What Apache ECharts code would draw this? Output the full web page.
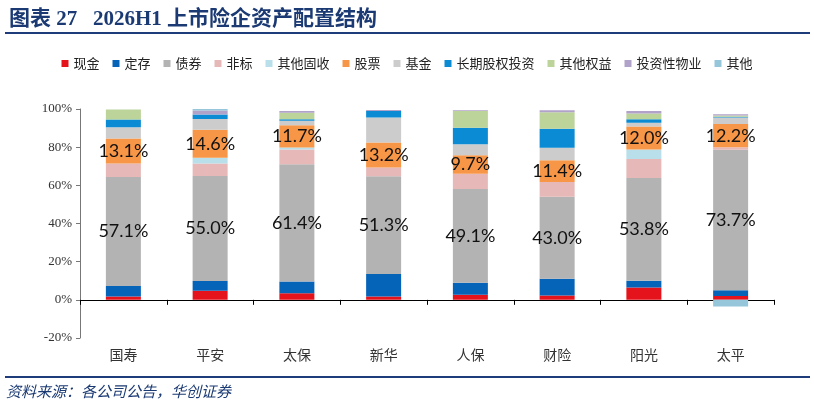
<!DOCTYPE html>
<html>
<head>
<meta charset="utf-8">
<script src="https://cdn.jsdelivr.net/npm/echarts@6/dist/echarts.min.js"></script>
<style>
  html, body { margin: 0; padding: 0; background: #fff; }
  #main { width: 814px; height: 408px; }
</style>
</head>
<body>
<div id="main"></div>
<script>
var companies = ['国寿', '平安', '太保', '新华', '人保', '财险', '阳光', '太平']

// shares of total investment assets, %
var cash = [1.8, 4.7, 3.5, 1.7, 2.6, 2.3, 6.5, 2.0]
var deposits = [5.5, 5.2, 6.1, 11.8, 6.4, 8.7, 3.5, 3.0]
var bonds = [57.1, 55.0, 61.4, 51.3, 49.1, 43.0, 53.8, 73.7]
var nonStandard = [7.0, 6.5, 7.8, 4.5, 8.0, 7.7, 10.0, 1.2]
var otherFixed = [0, 3.1, 1.0, 0, 0, 0, 5.0, 0]
var stocks = [13.1, 14.6, 11.7, 13.2, 9.7, 11.4, 12.0, 12.2]
var funds = [6.0, 5.6, 2.4, 13.0, 5.7, 6.6, 2.0, 3.5]
var longEquity = [4.0, 2.4, 0.7, 3.5, 8.7, 9.9, 1.8, 0.4]
var otherEquity = [5.2, 0, 3.5, 0, 8.7, 8.7, 3.0, 0.6]
var property = [0, 2.1, 0.9, 0.5, 0.5, 1.0, 1.4, 0.7]
var others = [0, 0.8, 0, 0, 0, 0, 0, -3.5]

var yTicks = [-20, 0, 20, 40, 60, 80, 100]

var seriesDefs = [
  ['现金', cash, '#E5141C', false],
  ['定存', deposits, '#0563B8', false],
  ['债券', bonds, '#B3B3B3', true],
  ['非标', nonStandard, '#E6B9B8', false],
  ['其他固收', otherFixed, '#B9DFEA', false],
  ['股票', stocks, '#F79646', true],
  ['基金', funds, '#CCCCCC', false],
  ['长期股权投资', longEquity, '#0A8BD3', false],
  ['其他权益', otherEquity, '#BCD39A', false],
  ['投资性物业', property, '#B1A2C9', false],
  ['其他', others, '#96C6D9', false]
]

var chartDom = document.getElementById('main')
var myChart = echarts.init(chartDom)
var option

var series = seriesDefs.map(function (d) {
  return {
    name: d[0],
    type: 'bar',
    stack: 'total',
    barWidth: 35,
    data: d[1],
    itemStyle: { color: d[2] },
    label: {
      show: d[3],
      position: 'inside',
      color: '#111',
      fontSize: 18,
      fontFamily: 'Lato, "Noto Sans", sans-serif',
      formatter: function (p) { return p.value.toFixed(1) + '%' }
    }
  }
})

option = {
  animation: false,
  title: {
    text: '图表 27   2026H1 上市险企资产配置结构',
    left: 4,
    top: 4,
    textStyle: {
      color: '#1B3A73',
      fontSize: 21,
      fontWeight: 'bold',
      fontFamily: '"Liberation Serif", "Noto Sans CJK SC", serif'
    }
  },
  graphic: [
    { type: 'rect', shape: { x: 5, y: 32, width: 805, height: 2 }, style: { fill: '#1F3C7A' } },
    { type: 'rect', shape: { x: 5, y: 376, width: 805, height: 2 }, style: { fill: '#1F3C7A' } },
    {
      type: 'text', left: 6, top: 384,
      style: {
        text: '资料来源：各公司公告，华创证券',
        fill: '#1B3A73',
        fontSize: 15,
        fontStyle: 'italic',
        fontFamily: '"Noto Sans CJK SC", sans-serif'
      }
    }
  ],
  legend: {
    top: 52,
    left: 'center',
    icon: 'rect',
    itemWidth: 7,
    itemHeight: 7,
    itemGap: 13,
    textStyle: { fontSize: 13, color: '#222', fontFamily: '"Noto Sans CJK SC", sans-serif' },
    data: seriesDefs.map(function (d) { return d[0] })
  },
  grid: { left: 80, right: 40, top: 109, bottom: 70 },
  xAxis: {
    type: 'category',
    data: companies,
    axisLine: { onZero: true, lineStyle: { color: '#000', width: 1 } },
    axisTick: { show: true, lineStyle: { color: '#000' } },
    axisLabel: { fontSize: 14, color: '#333', margin: 10, fontFamily: '"Noto Sans CJK SC", sans-serif' }
  },
  yAxis: {
    type: 'value',
    min: yTicks[0],
    max: yTicks[yTicks.length - 1],
    interval: 20,
    axisLine: { show: true, lineStyle: { color: '#777' } },
    axisTick: { show: true, length: 4, lineStyle: { color: '#777' } },
    splitLine: { show: false },
    axisLabel: {
      formatter: '{value}%',
      fontSize: 13,
      color: '#333',
      fontFamily: '"Liberation Serif", serif'
    }
  },
  series: series
}

option && myChart.setOption(option)
</script>
</body>
</html>
